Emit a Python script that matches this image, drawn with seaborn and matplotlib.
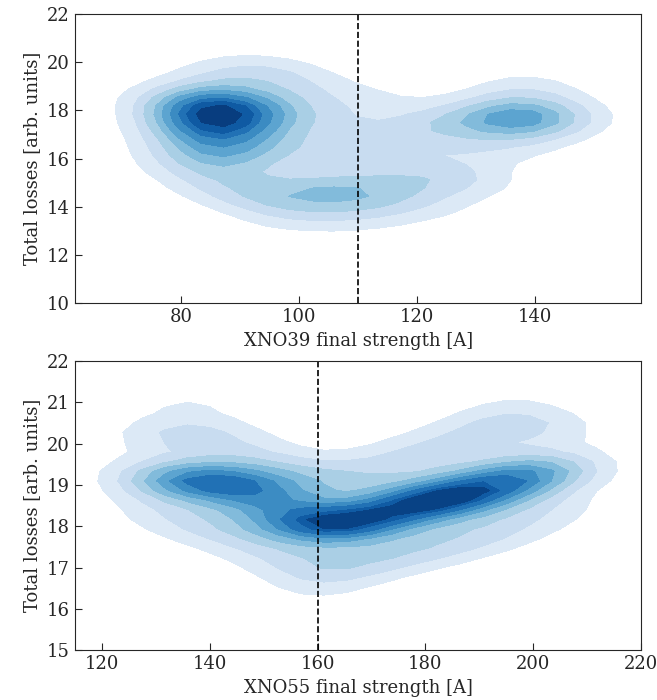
import numpy as np
import pandas as pd
import matplotlib
matplotlib.use("Agg")
import matplotlib.pyplot as plt
from matplotlib.colors import ListedColormap
import seaborn as sns
from seaborn._statistics import KDE

# hand-read sample points (x, y, weight) for the two density panels
x39 = [86, 84, 88, 84, 88, 86, 86, 80, 92, 86, 80, 92, 78, 95, 90, 100,
       95, 100, 104, 108, 112, 116, 120, 125, 90, 98, 110, 122, 130,
       100, 105, 110, 118, 124, 100, 95, 112,
       137, 134, 140, 137, 137, 143, 131, 128, 140, 145]
y39 = [17.8, 18.3, 18.3, 17.0, 17.0, 16.2, 15.2, 17.5, 17.5, 19.3, 16.0, 16.0, 18.5, 18.0, 19.8, 19.3,
       14.5, 14.2, 14.8, 14.5, 14.3, 14.8, 15.2, 15.5, 14.5, 13.5, 13.5, 14.0, 15.0,
       16.5, 17.5, 16.0, 17.0, 17.5, 18.5, 19.5, 18.5,
       17.8, 17.4, 17.6, 18.8, 16.5, 17.5, 17.8, 16.5, 19.0, 18.0]
w39 = [5, 2.3, 2.3, 2.3, 2.3, 2.3, 1.8, 1.1, 1.1, 1, 1.1, 1.1, 1, 1, 0.8, 0.8,
       1.1, 1.1, 1.8, 1.1, 1.1, 1.1, 1.1, 1.1, 1.1, 1, 1, 1, 1,
       1.4, 1.4, 1.4, 1.4, 1.4, 1, 1, 1,
       2.6, 1.3, 1.3, 0.9, 0.9, 0.9, 0.9, 0.9, 0.7, 0.7]

x55 = [130, 130, 130, 135, 135, 135, 140, 140, 140, 145, 145, 145,
       150, 150, 150, 155, 155, 155, 160, 160, 160, 165, 165, 165, 170, 170, 170,
       175, 175, 175, 180, 180, 180, 185, 185, 185, 190, 190, 190, 195, 195, 195,
       200, 200, 200, 205, 205, 205, 136, 196, 160]
y55 = [19.3, 20.2, 18.5, 19.1, 20.3, 18.2, 19.1, 20.2, 18.0, 19.0, 19.9, 17.8,
       18.7, 19.6, 17.5, 18.3, 19.3, 17.2, 18.0, 19.1, 17.0, 18.0, 19.1, 17.0, 18.2, 19.3, 17.2,
       18.4, 19.6, 17.3, 18.6, 19.8, 17.5, 18.7, 20.0, 17.6, 18.9, 20.3, 17.8, 19.1, 20.5, 18.0,
       19.3, 20.5, 18.3, 19.5, 20.3, 18.5, 21.0, 21.0, 16.5]
w55 = [2, 1, 1, 3.5, 1.2, 1.2, 3.5, 1.2, 1.2, 3.6, 1.2, 1.2,
       4, 1.2, 1.2, 4, 1.2, 1.2, 4.5, 1.2, 1.2, 4.3, 1.2, 1.2, 3.5, 1.2, 1.2,
       3.7, 1.2, 1.2, 5, 1.2, 1.2, 4.5, 1.2, 1.2, 4, 1.2, 1.2, 4, 1.2, 1.2,
       3.5, 1, 1, 2, 0.8, 0.8, 1.2, 0.8, 1.2]

df39 = pd.DataFrame({"x": x39, "y": y39, "w": w39})
df55 = pd.DataFrame({"x": x55, "y": y55, "w": w55})

BW = 0.65
GRID = 30


def linear_levels(df, n=10):
    # turn evenly spaced density levels into the iso-proportions kdeplot wants
    kde = KDE(bw_adjust=BW, gridsize=GRID, cut=3)
    dens, _ = kde(df["x"].to_numpy(float), df["y"].to_numpy(float),
                  weights=df["w"].to_numpy(float))
    vals = dens.ravel()
    total = vals.sum()
    qs = [vals[vals < dens.max() * k / n].sum() / total for k in range(1, n)]
    return qs + [1.0]


sns.set_style("ticks")
plt.rcParams["font.family"] = ["DejaVu Serif"]
plt.rcParams["xtick.direction"] = "in"
plt.rcParams["ytick.direction"] = "in"

cmap = ListedColormap(plt.get_cmap("Blues")(np.linspace(0.09, 1.0, 256)))

fig, (ax1, ax2) = plt.subplots(2, 1, figsize=(6.57, 7.0), dpi=100)
fig.subplots_adjust(left=0.114, right=0.976, top=0.98, bottom=0.071, hspace=0.2)

sns.kdeplot(data=df39, x="x", y="y", weights="w", fill=True, cmap=cmap,
            levels=linear_levels(df39), bw_adjust=BW, gridsize=GRID, ax=ax1)
ax1.axvline(110, color="k", ls="--", lw=1.2)
ax1.set_xlim(62, 158)
ax1.set_ylim(10, 22)
ax1.set_xticks([80, 100, 120, 140])
ax1.set_yticks([10, 12, 14, 16, 18, 20, 22])
ax1.set_xlabel("XNO39 final strength [A]", fontsize=13)
ax1.set_ylabel("Total losses [arb. units]", fontsize=13)

sns.kdeplot(data=df55, x="x", y="y", weights="w", fill=True, cmap=cmap,
            levels=linear_levels(df55), bw_adjust=BW, gridsize=GRID, ax=ax2)
ax2.axvline(160, color="k", ls="--", lw=1.2)
ax2.set_xlim(115, 220)
ax2.set_ylim(15, 22)
ax2.set_xticks([120, 140, 160, 180, 200, 220])
ax2.set_yticks([15, 16, 17, 18, 19, 20, 21, 22])
ax2.set_xlabel("XNO55 final strength [A]", fontsize=13)
ax2.set_ylabel("Total losses [arb. units]", fontsize=13)

for ax in (ax1, ax2):
    ax.tick_params(labelsize=13, length=5, top=False, right=False)
    for s in ax.spines.values():
        s.set_visible(True)

fig.savefig("out.png", dpi=100)
